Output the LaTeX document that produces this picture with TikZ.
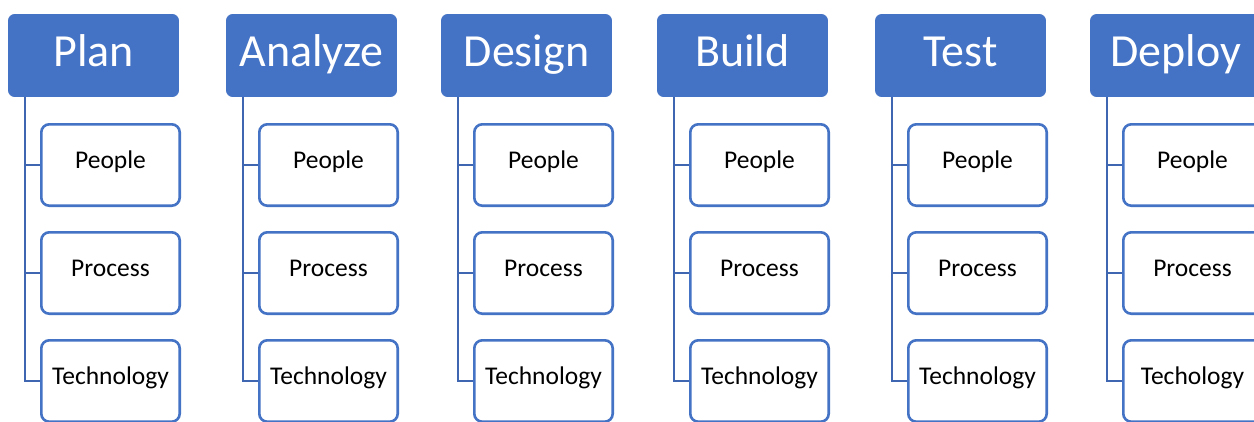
\documentclass[tikz,border=0pt]{standalone}
\usepackage{fontspec}
\setmainfont{Carlito}
\definecolor{hblue}{HTML}{4472C4}
\definecolor{lblue}{HTML}{3F66B0}
\begin{document}
\begin{tikzpicture}[x=1pt,y=-1pt,
  head/.style={fill=hblue,draw=hblue,line width=0.8pt,rounded corners=6pt,minimum width=170pt,minimum height=82pt,text=white,font=\fontsize{46}{50}\selectfont,inner sep=0pt,text height=32pt,text depth=9.4pt},
  item/.style={draw=hblue,line width=2.6pt,fill=white,rounded corners=8pt,minimum width=138.4pt,minimum height=81.4pt,font=\fontsize{25.5}{28}\selectfont,inner sep=0pt,text height=17pt,text depth=10pt},
  link/.style={draw=lblue,line width=2.6pt}]
\useasboundingbox (0,0) rectangle (1254,421);
\clip (0,0) rectangle (1254,421);
\fill[white] (0,0) rectangle (1254,421);
\foreach \lx/\hd/\tech [count=\i] in {8/Plan/Technology,226/Analyze/Technology,441/Design/Technology,657/Build/Technology,875/Test/Technology,1090/Deploy/Techology}{
  \pgfmathsetmacro{\hx}{\lx+85.5}
  \pgfmathsetmacro{\cx}{\lx+32+70.5}
  \pgfmathsetmacro{\vx}{\lx+17}
  \node[head] (h\i) at (\hx,55.5) {\hd};
  \node[item] (p\i) at (\cx,165) {People};
  \node[item] (r\i) at (\cx,273) {Process};
  \node[item] (t\i) at (\cx,381) {\tech};
  \coordinate (v\i) at (\vx,97);
  \draw[link] (v\i) |- (t\i.west);
  \draw[link] (v\i |- p\i.west) -- (p\i.west);
  \draw[link] (v\i |- r\i.west) -- (r\i.west);
}
\end{tikzpicture}
\end{document}
